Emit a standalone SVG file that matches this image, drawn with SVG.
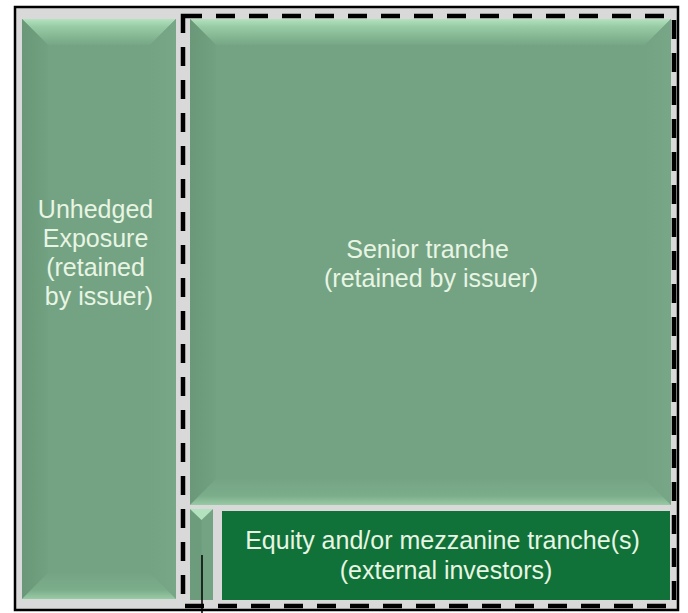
<svg xmlns="http://www.w3.org/2000/svg" width="688" height="613" viewBox="0 0 688 613">
  <defs>
    <linearGradient id="gTop" x1="0" y1="0" x2="0" y2="1">
      <stop offset="0" stop-color="#b3e2bf"/>
      <stop offset="0.3" stop-color="#97cba4"/>
      <stop offset="1" stop-color="#76a685"/>
    </linearGradient>
    <linearGradient id="gBottom" x1="0" y1="0" x2="0" y2="1">
      <stop offset="0" stop-color="#75a484"/>
      <stop offset="0.65" stop-color="#7bad8b"/>
      <stop offset="1" stop-color="#98caa5"/>
    </linearGradient>
    <linearGradient id="gLeft" x1="0" y1="0" x2="1" y2="0">
      <stop offset="0" stop-color="#6a9878"/>
      <stop offset="1" stop-color="#71a180"/>
    </linearGradient>
    <linearGradient id="gRight" x1="0" y1="0" x2="1" y2="0">
      <stop offset="0" stop-color="#74a383"/>
      <stop offset="1" stop-color="#77a786"/>
    </linearGradient>
    <style>
      .frame { fill: #d9d9d9; stroke: #000; stroke-width: 2.5; }
      .body { fill: #74a383; }
      .bt { fill: url(#gTop); }
      .bb { fill: url(#gBottom); }
      .bl { fill: url(#gLeft); }
      .br { fill: url(#gRight); }
      .dash { fill: none; stroke: #000; stroke-width: 4.5; stroke-dasharray: 19 14; }
      .lbl { font-family: "Liberation Sans", Arial, sans-serif; font-size: 25px; fill: #e8f5e4; text-anchor: middle; }
      .equity { fill: #107238; }
      .conn { stroke: #000; stroke-width: 1.5; fill: none; }
    </style>
  </defs>

  <g id="frame">
    <rect class="frame" x="15" y="7" width="663" height="603"/>
  </g>

  <g id="unhedged">
    <rect class="body" x="22" y="19" width="154" height="580"/>
    <polygon class="bt" points="22,19 176,19 150,45 48,45"/>
    <polygon class="bl" points="22,19 48,45 48,573 22,599"/>
    <polygon class="br" points="176,19 150,45 150,573 176,599"/>
    <polygon class="bb" points="22,599 48,573 150,573 176,599"/>
    <text class="lbl">
      <tspan x="99" y="218">Unhedged</tspan>
      <tspan x="99" y="247">Exposure</tspan>
      <tspan x="99" y="276">(retained</tspan>
      <tspan x="99" y="305">by issuer)</tspan>
    </text>
  </g>

  <g id="senior">
    <rect class="body" x="190" y="19" width="481" height="486"/>
    <polygon class="bt" points="190,19 671,19 645,45 216,45"/>
    <polygon class="bl" points="190,19 216,45 216,479 190,505"/>
    <polygon class="br" points="671,19 645,45 645,479 671,505"/>
    <polygon class="bb" points="190,505 216,479 645,479 671,505"/>
    <text class="lbl">
      <tspan x="431" y="258">Senior tranche</tspan>
      <tspan x="431" y="287">(retained by issuer)</tspan>
    </text>
  </g>

  <g id="small-tranche">
    <rect x="190" y="509" width="23" height="91" fill="#74a383"/>
    <polygon points="190,509 201.5,520 201.5,600 190,600" fill="#6d9c7c"/>
    <polygon points="190,509 213,509 201.5,520" fill="#b3e2bf"/>
  </g>

  <g id="equity">
    <rect class="equity" x="222" y="511" width="448" height="89"/>
    <text class="lbl">
      <tspan x="446" y="549">Equity and/or mezzanine tranche(s)</tspan>
      <tspan x="446" y="579">(external investors)</tspan>
    </text>
  </g>

  <g id="retained-boundary">
    <rect class="dash" x="183" y="16" width="491" height="590"/>
  </g>

  <g id="connectors">
    <line class="conn" x1="202" y1="555" x2="202" y2="613"/>
  </g>
</svg>
